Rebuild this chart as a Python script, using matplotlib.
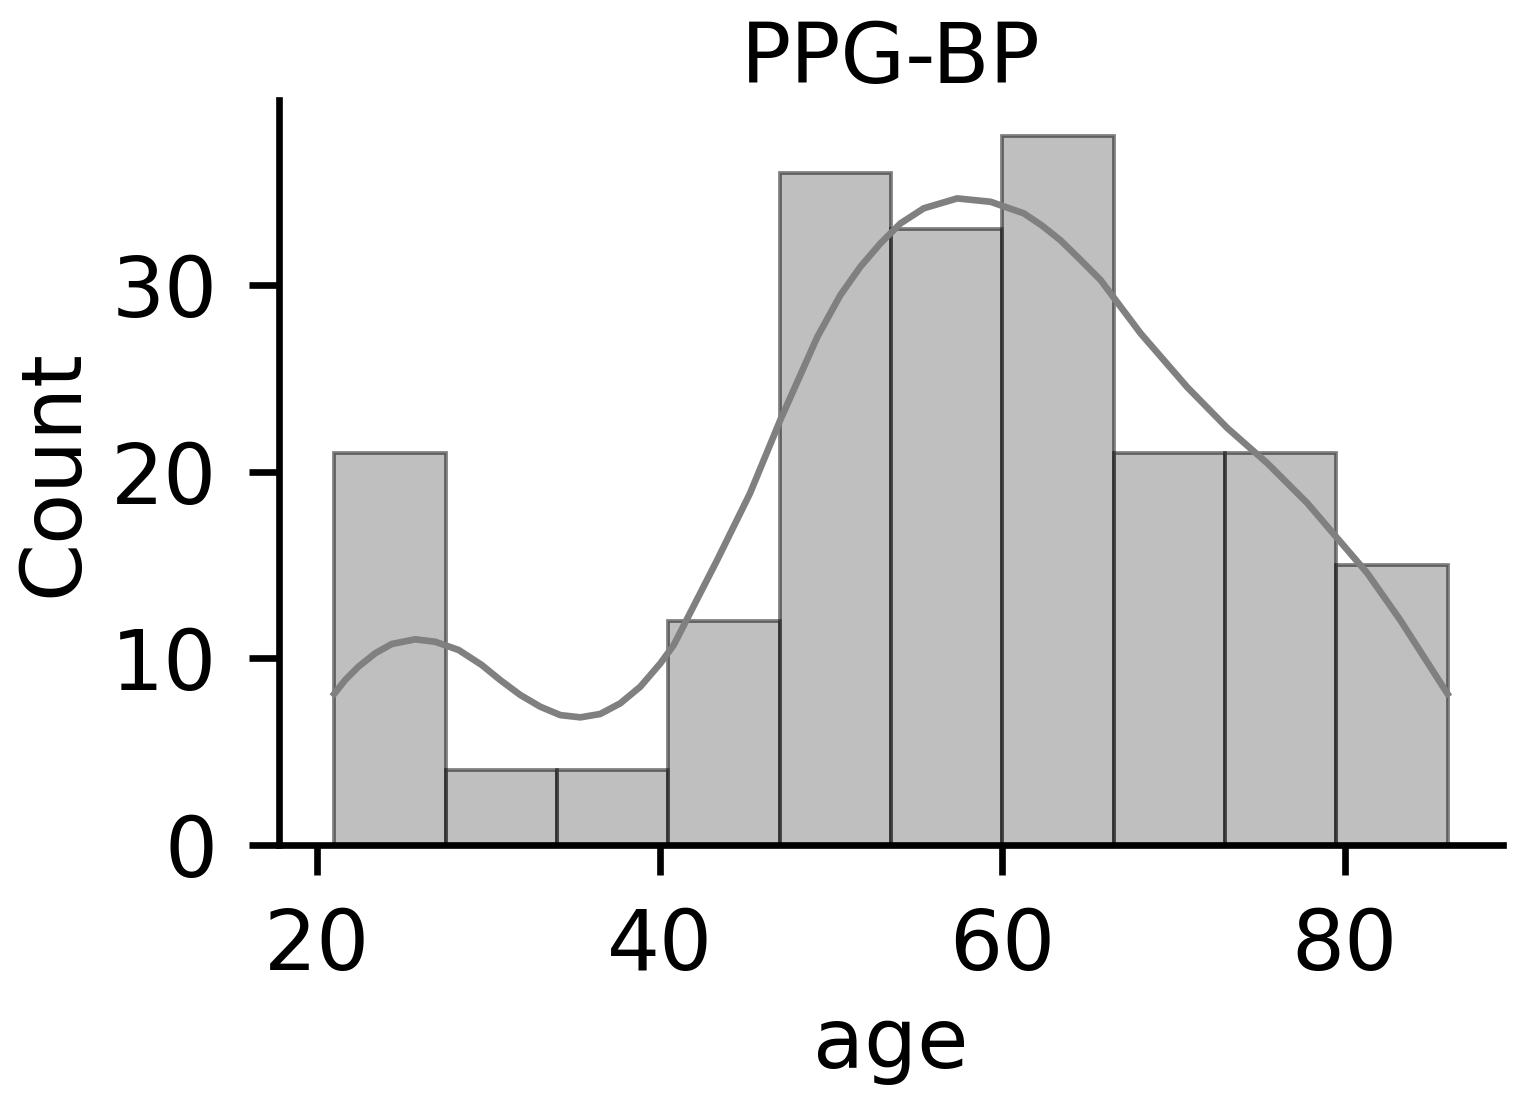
import matplotlib
matplotlib.use("Agg")
from matplotlib import pyplot as plt

# histogram of age (PPG-BP), 10 bins
bin_edges = [21, 27.5, 34, 40.5, 47, 53.5, 60, 66.5, 73, 79.5, 86]
counts = [21, 4, 4, 12, 36, 33, 38, 21, 21, 15]

# kde curve (age, count)
kde_age = [21.0, 21.64, 22.41, 23.39, 24.36, 25.73, 26.89, 28.26, 29.62,
           30.69, 31.86, 33.03, 34.2, 35.37, 36.53, 37.7, 38.87, 40.04,
           40.82, 43.36, 45.28, 47.04, 49.2, 50.55, 51.72, 52.89, 54.06,
           55.42, 57.37, 59.32, 61.26, 62.3, 63.4, 64.58, 65.74, 66.91,
           68.08, 70.8, 73.14, 75.47, 77.81, 79.56, 81.31, 83.24, 86.0]
kde_count = [8.1, 8.84, 9.55, 10.27, 10.77, 11.02, 10.89, 10.45, 9.64,
             8.84, 8.04, 7.41, 6.96, 6.84, 7.02, 7.59, 8.48, 9.73,
             10.71, 15.27, 18.85, 22.76, 27.21, 29.46, 30.98, 32.23, 33.3,
             34.11, 34.64, 34.46, 33.84, 33.2, 32.4, 31.34, 30.27, 28.84,
             27.41, 24.53, 22.34, 20.46, 18.32, 16.44, 14.57, 12.05, 8.1]

fs = 20
plt.rcParams["font.family"] = "DejaVu Sans"

fig = plt.figure(figsize=(1523 / 300, 1099 / 300), dpi=300)
ax = fig.add_axes([0.1829, 0.2311, 0.8041, 0.6777])

widths = [b - a for a, b in zip(bin_edges[:-1], bin_edges[1:])]
ax.bar(bin_edges[:-1], counts, width=widths, align="edge",
       color="grey", edgecolor="black", linewidth=0.9, alpha=0.5)
ax.plot(kde_age, kde_count, color="grey", linewidth=1.6,
        solid_joinstyle="round")

ax.set_title("PPG-BP", fontsize=fs, pad=4)
ax.set_xlabel("age", fontsize=fs)
ax.set_ylabel("Count", fontsize=fs)
ax.set_xticks([20, 40, 60, 80])
ax.set_yticks([0, 10, 20, 30])
ax.tick_params(labelsize=fs, length=7.2, width=1.6, pad=7.5)
for s in ["top", "right"]:
    ax.spines[s].set_visible(False)
for s in ["left", "bottom"]:
    ax.spines[s].set_linewidth(1.6)

fig.savefig("out.png", dpi=300)
